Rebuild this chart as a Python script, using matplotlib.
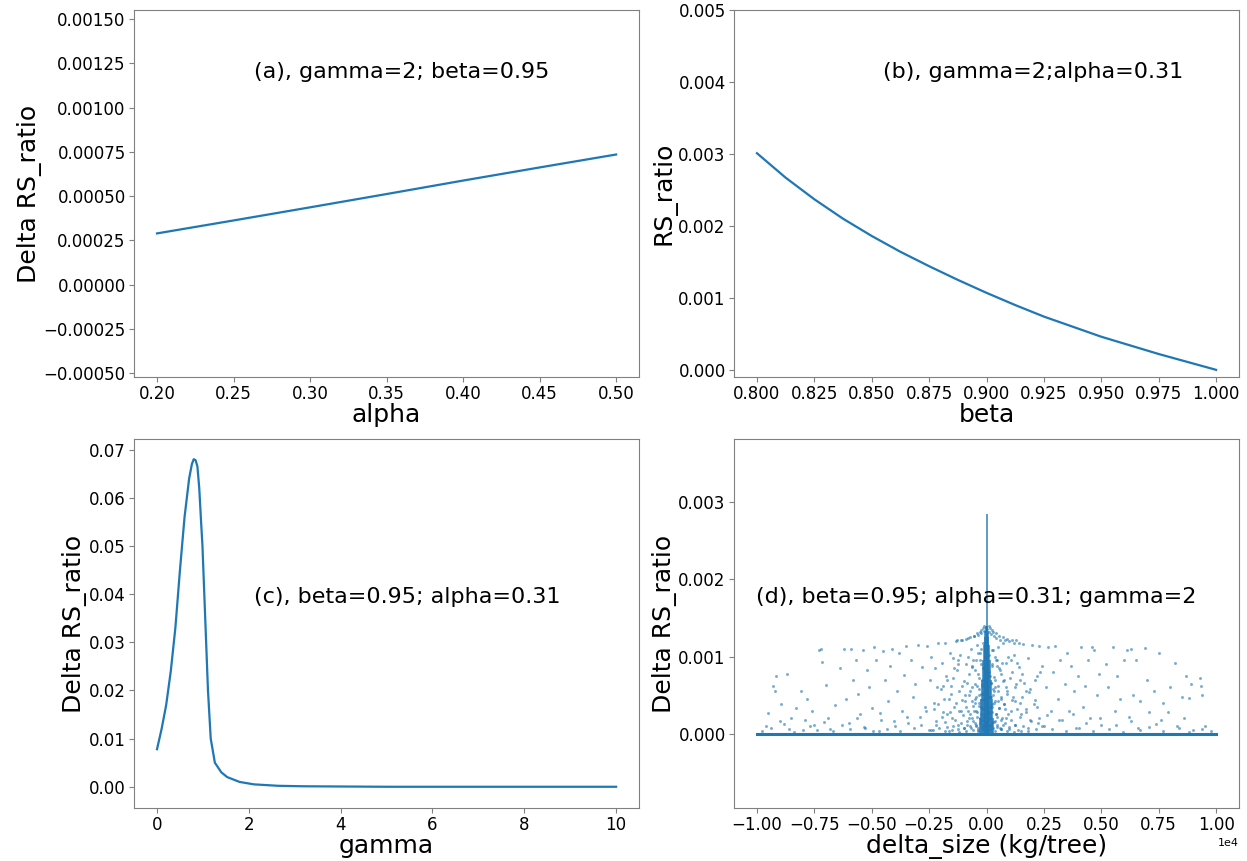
import numpy as np
import matplotlib
matplotlib.use("Agg")
import matplotlib.pyplot as plt
from matplotlib.ticker import FormatStrFormatter

BLUE = "#1f77b4"

# (a) delta RS_ratio vs alpha
a_alpha = [0.20, 0.25, 0.30, 0.35, 0.40, 0.45, 0.50]
a_delta = [0.000290, 0.000363, 0.000437, 0.000512, 0.000588, 0.000662, 0.000735]

# (b) RS_ratio vs beta
b_beta = [0.800, 0.8125, 0.825, 0.8375, 0.850, 0.8625, 0.875, 0.8875, 0.900,
          0.9125, 0.925, 0.9375, 0.950, 0.9625, 0.975, 0.9875, 1.000]
b_ratio = [0.00301, 0.00267, 0.00237, 0.00210, 0.00186, 0.00164, 0.00144, 0.00125, 0.00107,
           0.00090, 0.00074, 0.00060, 0.00046, 0.00034, 0.00022, 0.00011, 0.00000]

# (c) delta RS_ratio vs gamma
c_gamma = [0.0, 0.1, 0.2, 0.3, 0.4, 0.5, 0.6, 0.7, 0.76, 0.8, 0.84, 0.88, 0.92, 0.96,
           0.99, 1.03, 1.07, 1.11, 1.17, 1.26, 1.40, 1.53, 1.80, 2.11, 2.64, 3.2, 5.0, 10.0]
c_delta = [0.0078, 0.012, 0.017, 0.024, 0.033, 0.045, 0.056, 0.064, 0.0670, 0.0680, 0.0678,
           0.0665, 0.062, 0.055, 0.050, 0.040, 0.030, 0.020, 0.010, 0.005, 0.003, 0.002,
           0.001, 0.0005, 0.0002, 0.0001, 0.0, 0.0]

# (d) scatter of delta RS_ratio vs delta_size (kg/tree); y values in 1e-3
d_x = [-9600, -9500, -9300, -9200, -9150, -9000, -8950, -8700, -8600, -8500, -8300, -8100,
       -8000, -7900, -7800, -7600, -7500, -7300, -7200, -7150, -7000, -6900, -6800, -6600,
       -6400, -6200, -6100, -6000, -5900, -5800, -5700, -5600, -5500, -5400, -5300, -5200,
       -5100, -5000, -4900, -4800, -4700, -4600, -4500, -4400, -4300, -4200, -4100, -4000,
       -3900, -3800, -3700, -3600, -3500, -3400, -3300, -3200, -3100, -3000, -2900, -2800,
       -2700, -2600, -2500, -2450, -2400, -2300, -2200, -2100, -2000, -1950, -1900, -1800,
       -1750, -1700, -1650, -1600, -1550, -1500, -1450, -1400, -1350, -1300, -1250, -1200,
       -1150, -1100, -1050, -1000, -950, -900, -850, -800, -780, -750, -700, -680, -650,
       -600, -580, -550, -520, -500, -480, -450, -430, -400, -380, -360, -340, -320, -300,
       -280, -260, -240, -220, -200, -180, -160, -150, -140, -120, -100, -90, -80, -60, -50,
       -40, -30,
       30, 50, 70, 90, 110, 130, 150, 170, 190, 210, 230, 250, 270, 290, 310, 330, 350,
       380, 400, 420, 450, 480, 500, 530, 560, 590, 620, 650, 680, 700, 750, 780, 800, 850,
       900, 950, 1000, 1050, 1100, 1150, 1200, 1250, 1300, 1350, 1400, 1450, 1500, 1550,
       1600, 1700, 1800, 1900, 2000, 2100, 2200, 2300, 2400, 2500, 2600, 2700, 2800, 2900,
       3000, 3100, 3200, 3300, 3400, 3500, 3600, 3700, 3800, 3900, 4000, 4100, 4200, 4300,
       4400, 4500, 4600, 4700, 4800, 4900, 5000, 5200, 5300, 5500, 5600, 5700, 5800, 6000,
       6100, 6200, 6300, 6400, 6500, 6600, 6700, 6900, 7000, 7100, 7300, 7500, 7600, 7700,
       7900, 8000, 8200, 8300, 8500, 8600, 8700, 8800, 8900, 9000, 9300, 9350, 9400, 9500]
d_y = [0.10, 0.27, 0.62, 0.55, 0.75, 0.16, 0.38, 0.77, 0.06, 0.20, 0.33, 0.56,
       0.05, 0.18, 0.45, 0.30, 0.12, 1.09, 1.10, 0.93, 0.63, 0.20, 0.06, 0.37,
       0.85, 1.10, 0.45, 0.14, 1.10, 0.70, 0.95, 0.52, 0.25, 1.08, 0.08, 0.83,
       0.61, 0.33, 1.12, 0.96, 0.04, 0.18, 1.07, 0.70, 0.42, 0.88, 1.10, 0.10,
       0.55, 1.05, 0.29, 0.76, 1.13, 0.14, 0.95, 0.48, 0.64, 1.15, 0.22, 0.86,
       0.35, 1.14, 0.05, 0.70, 1.00, 0.40, 0.17, 1.17, 0.58, 0.91, 0.28, 1.18,
       0.75, 0.09, 0.45, 1.05, 0.62, 0.20, 0.98, 0.35, 1.20, 0.82, 0.12, 0.55,
       1.02, 0.30, 1.22, 0.68, 0.42, 0.90, 0.16, 1.24, 0.50, 0.77, 0.25, 1.10, 0.60,
       0.36, 0.95, 1.26, 0.14, 0.45, 0.82, 0.30, 1.15, 0.62, 0.08, 1.28, 0.40, 0.72, 0.20,
       1.05, 0.52, 0.90, 1.30, 0.33, 0.65, 0.12, 1.18, 0.85, 0.45, 1.33, 0.25, 0.70, 1.00, 0.15,
       0.55, 1.37,
       1.36, 0.18, 0.60, 1.02, 0.28, 1.32, 0.75, 0.10, 0.48, 1.29, 0.88, 0.35, 1.08, 0.58, 0.15, 1.27, 0.70,
       0.42, 0.95, 1.24, 0.22, 0.62, 1.12, 0.33, 0.85, 1.22, 0.48, 0.06, 0.92, 1.18, 0.38, 0.70, 1.21, 0.20,
       0.55, 1.00, 1.20, 0.30, 0.80, 0.48, 1.18, 0.12, 0.65, 0.92, 1.17, 0.40, 0.25, 0.78,
       1.16, 0.55, 0.98, 0.18, 1.15, 0.70, 0.35, 1.14, 0.88, 0.10, 0.60, 1.12, 0.30, 0.80,
       1.13, 0.45, 0.95, 0.18, 0.65, 1.05, 0.30, 0.88, 0.55, 0.08, 0.75, 1.12, 0.35, 0.62,
       0.95, 0.20, 1.12, 1.08, 0.50, 0.78, 0.12, 0.90, 0.60, 1.12, 0.30, 0.75, 0.45, 0.95,
       1.08, 0.22, 1.10, 0.50, 0.95, 0.08, 0.42, 1.11, 0.70, 0.28, 0.55, 1.04, 0.18, 0.40,
       0.28, 0.60, 0.92, 0.10, 0.47, 0.20, 0.75, 0.46, 0.65, 0.05, 0.72, 0.62, 0.50, 0.10]

# denser cloud within about +-2500 kg/tree of the centre (y in 1e-3)
d_x_mid = [-2400, -2300, -2200, -2150, -2050, -1950, -1850, -1800, -1700, -1650, -1600,
           -1550, -1480, -1420, -1380, -1320, -1260, -1220, -1180, -1120, -1080, -1020,
           -980, -940, -880, -840, -820, -760, -720, -690, -640, -620, -570, -540, -510,
           -470, -440, -410, -370, -350, -330, -310, -290, -270, -250, -230, -210, -190,
           -170, -160, -140, -110,
           110, 140, 160, 170, 190, 210, 230, 250, 270, 290, 310, 330, 350, 370, 410,
           440, 470, 510, 540, 570, 620, 640, 690, 720, 760, 820, 840, 880, 940, 980,
           1020, 1080, 1120, 1180, 1220, 1260, 1320, 1380, 1420, 1480, 1550, 1600, 1650,
           1700, 1800, 1850, 1950, 2050, 2150, 2200, 2300, 2400,
           -1300, -1100, -900, -700, -550, -400, -300, -220, -150, -90,
           90, 150, 220, 300, 400, 550, 700, 900, 1100, 1300,
           -1800, -1500, -1200, -1000, -900, -700, -600, -450, -350, -250, -150, -100, -60,
           60, 100, 150, 250, 350, 450, 600, 700, 900, 1000, 1200, 1500, 1800,
           -800, -650, -500, -420, -320, -260, -200, -130, -70, 70, 130, 200, 260, 320, 420,
           500, 650, 800]
d_y_mid = [0.05, 0.32, 0.12, 0.60, 0.08, 0.22, 0.45, 0.15, 0.70, 0.04, 0.28,
           0.52, 0.10, 0.85, 0.18, 0.40, 0.06, 0.95, 0.30, 0.14, 0.62, 0.24,
           0.08, 0.50, 0.35, 0.12, 1.00, 0.20, 0.55, 0.07, 0.42, 0.88, 0.16, 0.30, 0.65,
           0.10, 0.48, 0.22, 0.78, 0.05, 0.36, 0.58, 0.14, 0.95, 0.26, 0.44, 0.09, 0.70,
           0.32, 0.18, 0.52, 0.85,
           0.80, 0.48, 0.20, 0.35, 0.66, 0.12, 0.90, 0.28, 0.50, 0.08, 0.74, 0.40, 0.16, 0.60, 0.25,
           0.95, 0.11, 0.56, 0.34, 0.82, 0.06, 0.45, 0.20, 0.68, 0.38, 0.14, 0.92, 0.52, 0.26, 0.09,
           0.72, 0.18, 0.44, 1.02, 0.12, 0.60, 0.32, 0.05, 0.86, 0.22, 0.48, 0.10, 0.66,
           0.28, 0.08, 0.54, 0.16, 0.38, 0.06, 0.75, 0.20, 0.10,
           1.21, 1.22, 1.23, 1.25, 1.27, 1.30, 1.32, 1.34, 1.37, 1.40,
           1.40, 1.37, 1.34, 1.32, 1.30, 1.27, 1.25, 1.23, 1.22, 1.21,
           0.03, 0.05, 0.02, 0.08, 0.04, 0.10, 0.05, 0.12, 0.03, 0.18, 0.06, 0.22, 0.10,
           0.12, 0.25, 0.06, 0.15, 0.04, 0.09, 0.07, 0.11, 0.03, 0.06, 0.02, 0.04, 0.03,
           0.30, 0.20, 0.40, 0.28, 0.50, 0.35, 0.62, 0.45, 0.80, 0.75, 0.48, 0.66, 0.38, 0.55,
           0.26, 0.42, 0.18, 0.32]

# extra points read from the busier parts of the cloud (y in 1e-3)
d_x_more = [-9800, -9400, -8800, -8400, -7700, -7400, -7100, -6700, -6300, -5950, -5650,
            -5350, -4950, -4650, -4350, -4050, -3750, -3450, -3150, -2850, -2650, -2350,
            -2250, -2100, -1900, -1700, -1450, -1250, -1050, -850, -650, -450, -350, -250,
            250, 350, 450, 650, 850, 1050, 1250, 1450, 1700, 1900, 2100, 2250, 2350, 2650,
            2850, 3150, 3450, 3750, 4050, 4350, 4650, 4950, 5350, 5650, 5950, 6300, 6700,
            7100, 7400, 7700, 8400, 8800, 9400, 9800]
d_y_more = [0.04, 0.08, 0.13, 0.02, 0.10, 0.05, 0.15, 0.03, 0.12, 0.06, 0.20,
            0.09, 0.04, 0.27, 0.06, 0.16, 0.03, 0.22, 0.08, 0.12, 0.30, 0.05,
            0.85, 0.38, 0.62, 0.26, 0.72, 0.90, 0.44, 0.66, 0.86, 0.95, 1.05, 1.10,
            1.08, 1.00, 0.88, 0.78, 0.60, 0.95, 0.42, 0.70, 0.32, 0.58, 0.44, 0.14, 0.80, 0.24,
            0.06, 0.18, 0.04, 0.26, 0.08, 0.14, 0.03, 0.20, 0.06, 0.11, 0.02, 0.16, 0.05,
            0.09, 0.13, 0.04, 0.07, 0.02, 0.06, 0.03]

# packed column around delta_size = 0: x of each stroke and its top (y in 1e-3)
d_col_x = [-300, -240, -190, -150, -110, -80, -50, -25, 0, 25, 50, 80, 110, 150, 190, 240, 300]
d_col_top = [0.20, 0.45, 0.70, 0.95, 1.15, 1.25, 1.33, 1.40, 2.85, 1.40, 1.33, 1.25, 1.15,
             0.95, 0.70, 0.45, 0.20]
# baseline of points sitting at ~0 over the whole range
d_base_x = [-10000, 10000]

tick_size = 12
label_size = 18
note_size = 16

fig = plt.figure(figsize=(12.47, 8.61), dpi=100)
axa = fig.add_axes([0.1075, 0.5621, 0.405, 0.4263])
axb = fig.add_axes([0.5886, 0.5621, 0.405, 0.4263])
axc = fig.add_axes([0.1075, 0.0616, 0.405, 0.4280])
axd = fig.add_axes([0.5886, 0.0616, 0.405, 0.4280])

for ax in (axa, axb, axc, axd):
    for s in ax.spines.values():
        s.set_color("0.5")
    ax.tick_params(labelsize=tick_size, color="0.5", pad=2.5)

# (a)
axa.plot(a_alpha, a_delta, color=BLUE, lw=1.6)
axa.set_xlim(0.185, 0.515)
axa.set_ylim(-0.00052, 0.00155)
axa.set_xticks([0.20, 0.25, 0.30, 0.35, 0.40, 0.45, 0.50])
axa.set_yticks(np.arange(-0.0005, 0.00151, 0.00025))
axa.set_xlabel("alpha", fontsize=label_size, labelpad=0)
axa.set_ylabel("Delta RS_ratio", fontsize=label_size, labelpad=1)
axa.text(0.238, 0.831, "(a), gamma=2; beta=0.95", transform=axa.transAxes,
         fontsize=note_size, va="center")

# (b)
axb.plot(b_beta, b_ratio, color=BLUE, lw=1.6)
axb.set_xlim(0.79, 1.01)
axb.set_ylim(-0.0001, 0.005)
axb.set_xticks(np.arange(0.8, 1.0001, 0.025))
axb.set_yticks(np.arange(0, 0.00501, 0.001))
axb.xaxis.set_major_formatter(FormatStrFormatter("%.3f"))
axb.yaxis.set_major_formatter(FormatStrFormatter("%.3f"))
axb.set_xlabel("beta", fontsize=label_size, labelpad=0)
axb.set_ylabel("RS_ratio", fontsize=label_size, labelpad=1)
axb.text(0.295, 0.831, "(b), gamma=2;alpha=0.31", transform=axb.transAxes,
         fontsize=note_size, va="center")

# (c)
axc.plot(c_gamma, c_delta, color=BLUE, lw=1.6)
axc.set_xlim(-0.5, 10.5)
axc.set_ylim(-0.0044, 0.0721)
axc.set_xticks([0, 2, 4, 6, 8, 10])
axc.set_yticks(np.arange(0, 0.0701, 0.01))
axc.yaxis.set_major_formatter(FormatStrFormatter("%.2f"))
axc.set_xlabel("gamma", fontsize=label_size, labelpad=0)
axc.set_ylabel("Delta RS_ratio", fontsize=label_size, labelpad=1)
axc.text(0.238, 0.573, "(c), beta=0.95; alpha=0.31", transform=axc.transAxes,
         fontsize=note_size, va="center")

# (d)
axd.plot(d_base_x, [0, 0], color=BLUE, lw=2.2)
axd.vlines(d_col_x, 0, np.array(d_col_top) * 1e-3, color=BLUE, lw=1.2, alpha=0.85)
for xs, ys in ((d_x, d_y), (d_x_mid, d_y_mid), (d_x_more, d_y_more)):
    axd.scatter(xs, np.array(ys) * 1e-3, s=4.5, color=BLUE, alpha=0.6, linewidths=0)
axd.set_xlim(-11000, 11000)
axd.set_ylim(-0.00096, 0.00381)
axd.set_xticks(np.arange(-10000, 10001, 2500))
axd.set_yticks([0, 0.001, 0.002, 0.003])
axd.yaxis.set_major_formatter(FormatStrFormatter("%.3f"))
axd.ticklabel_format(axis="x", style="sci", scilimits=(0, 0))
axd.xaxis.get_offset_text().set_fontsize(8)
axd.set_xlabel("delta_size (kg/tree)", fontsize=label_size, labelpad=0)
axd.set_ylabel("Delta RS_ratio", fontsize=label_size, labelpad=1)
axd.text(0.044, 0.573, "(d), beta=0.95; alpha=0.31; gamma=2", transform=axd.transAxes,
         fontsize=note_size, va="center")

fig.savefig("out.png", dpi=100)
